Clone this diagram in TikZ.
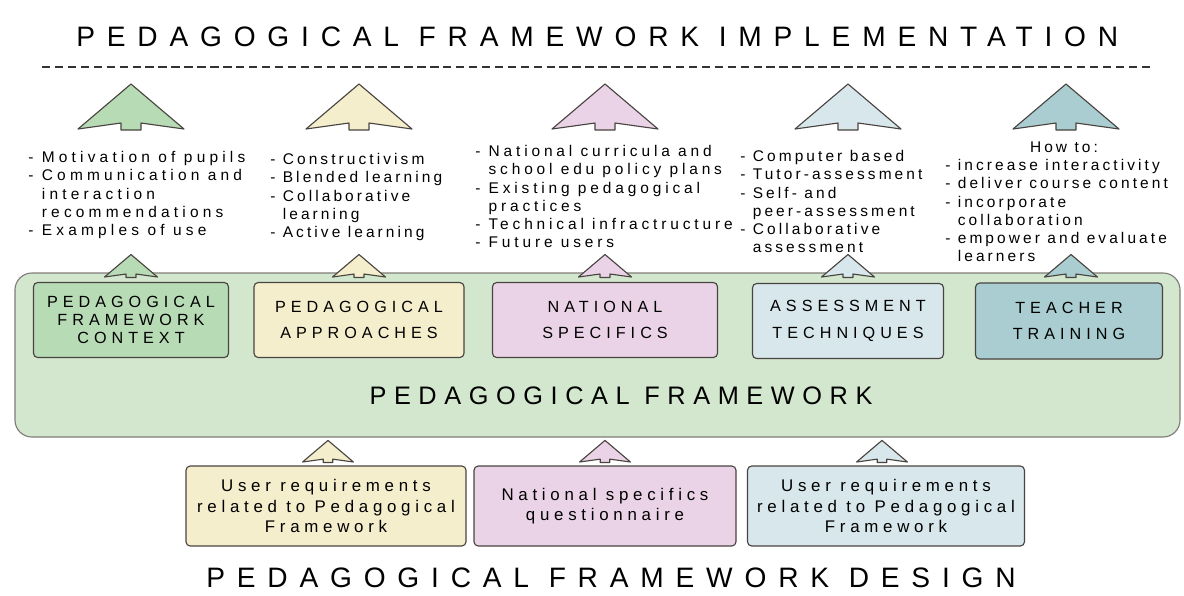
\documentclass[tikz,border=0pt]{standalone}
\usepackage{fontspec}
\setmainfont{Liberation Sans}
\usepackage{xcolor}
\usetikzlibrary{positioning}

\newcommand{\pxu}{0.025cm}

\definecolor{frameGreen}{HTML}{D2E7CE}
\definecolor{ctxGreen}{HTML}{B7DBB5}
\definecolor{apprYellow}{HTML}{F5EECD}
\definecolor{natPink}{HTML}{EBD3E7}
\definecolor{assessBlue}{HTML}{D7E7EB}
\definecolor{teachTeal}{HTML}{A9CDD0}
\definecolor{edgeGray}{HTML}{4A4440}

\tikzset{
  uparrow/.pic={
    \draw[pic actions] (-53,0) -- (-10,-6) -- (-10,1) -- (10,1) -- (10,-6) -- (53,0) -- (0,-45) -- cycle;
  },
  arrowline/.style={draw=edgeGray, line width=0.8pt, line join=round},
  box/.style={draw=edgeGray, line width=0.8pt, rounded corners=3pt, align=center, inner sep=0pt},
  capsfont/.style={font=\fontsize{11.5}{19}\selectfont\addfontfeature{LetterSpace=31}},
  lowfont/.style={font=\fontsize{12}{14.5}\selectfont\addfontfeature{LetterSpace=28}},
  listfont/.style={font=\fontsize{11}{13}\selectfont\addfontfeature{LetterSpace=#1}, align=left, inner sep=0pt, anchor=north west},
  listfont/.default=20,
  bigtitle/.style={font=\fontsize{20}{24}\selectfont\addfontfeature{LetterSpace=42}, inner sep=0pt, anchor=west},
}

\newcommand{\ind}{\phantom{- }}

\begin{document}
\begin{tikzpicture}[x=\pxu, y=-\pxu]
  \useasboundingbox[fill=white] (0,0) rectangle (1184,595);

  % Implementation side
  \node[bigtitle] (impl) at (76,37) {PEDAGOGICAL FRAMEWORK IMPLEMENTATION};
  \coordinate (dashL) at (42,67);
  \coordinate (dashR) at (1153,67);
  \draw[draw=black!80, line width=2pt, dash pattern=on 6pt off 3.2pt] (dashL) -- (dashR);

  % Framework
  \node[draw=edgeGray!70, fill=frameGreen, line width=0.8pt, rounded corners=12pt,
        minimum width=1165*\pxu, minimum height=164*\pxu] (fw) at (597.5,355) {};
  \node[font=\fontsize{18}{22}\selectfont\addfontfeature{LetterSpace=30}] (fwlabel) at (621,396) {PEDAGOGICAL FRAMEWORK};

  \node[box, capsfont, fill=ctxGreen, minimum width=195*\pxu, minimum height=75*\pxu,
        font=\fontsize{11.5}{13}\selectfont\addfontfeature{LetterSpace=31}] (ctx) at (131,320) {PEDAGOGICAL\\FRAMEWORK\\CONTEXT};
  \node[box, capsfont, fill=apprYellow, minimum width=210*\pxu, minimum height=75*\pxu] (appr) at (359,320) {PEDAGOGICAL\\APPROACHES};
  \node[box, capsfont, fill=natPink, minimum width=225*\pxu, minimum height=75*\pxu] (nat) at (605,320) {NATIONAL\\SPECIFICS};
  \node[box, capsfont, fill=assessBlue, minimum width=191*\pxu, minimum height=75*\pxu] (assess) at (848,321) {ASSESSMENT\\TECHNIQUES};
  \node[box, capsfont, fill=teachTeal, minimum width=187*\pxu, minimum height=76*\pxu] (teach) at (1069,321) {TEACHER\\TRAINING};

  % Arrows above the boxes
  \pic[arrowline, fill=ctxGreen] at (131,129) {uparrow};
  \pic[arrowline, fill=apprYellow] at (359,129) {uparrow};
  \pic[arrowline, fill=natPink] at (605,129) {uparrow};
  \pic[arrowline, fill=assessBlue] at (848,129) {uparrow};
  \pic[arrowline, fill=teachTeal] at (1066,129) {uparrow};

  \pic[arrowline, fill=ctxGreen, scale=0.5] at (131,277) {uparrow};
  \pic[arrowline, fill=apprYellow, scale=0.5] at (359,277) {uparrow};
  \pic[arrowline, fill=natPink, scale=0.5] at (605,277) {uparrow};
  \pic[arrowline, fill=assessBlue, scale=0.5] at (848,277) {uparrow};
  \pic[arrowline, fill=teachTeal, scale=0.5] at (1071,277) {uparrow};

  % Lists
  \node[listfont=27] (ctxlist) at (28,151) {- Motivation of pupils\\- Communication and\\\ind interaction\\\ind recommendations\\- Examples of use};
  \node[listfont] (apprlist) at (270,153) {- Constructivism\\- Blended learning\\- Collaborative\\\ind learning\\- Active learning};
  \node[listfont=25] (natlist) at (475,145) {- National curricula and\\\ind school edu policy plans\\- Existing pedagogical\\\ind practices\\- Technical infractructure\\- Future users};
  \node[listfont] (assesslist) at (740,150) {- Computer based\\- Tutor-assessment\\- Self- and\\\ind peer-assessment\\- Collaborative\\\ind assessment};
  \node[listfont, anchor=north] (howto) at (1064,142) {How to:};
  \node[listfont] (teachlist) at (945,159) {- increase interactivity\\- deliver course content\\- incorporate\\\ind collaboration\\- empower and evaluate\\\ind learners};

  % Design side
  \node[box, lowfont, fill=apprYellow, minimum width=280*\pxu, minimum height=80*\pxu] (ureqA) at (326,506) {User requirements\\related to Pedagogical\\Framework};
  \node[box, lowfont, fill=natPink, minimum width=262*\pxu, minimum height=80*\pxu] (natq) at (605,506) {National specifics\\questionnaire};
  \node[box, lowfont, fill=assessBlue, minimum width=277*\pxu, minimum height=80*\pxu] (ureqB) at (886,506) {User requirements\\related to Pedagogical\\Framework};

  \pic[arrowline, fill=apprYellow, scale=0.48] at (328,462) {uparrow};
  \pic[arrowline, fill=natPink, scale=0.48] at (605,462) {uparrow};
  \pic[arrowline, fill=assessBlue, scale=0.48] at (882,462) {uparrow};

  \node[bigtitle] (design) at (206,578) {PEDAGOGICAL FRAMEWORK DESIGN};
\end{tikzpicture}
\end{document}
